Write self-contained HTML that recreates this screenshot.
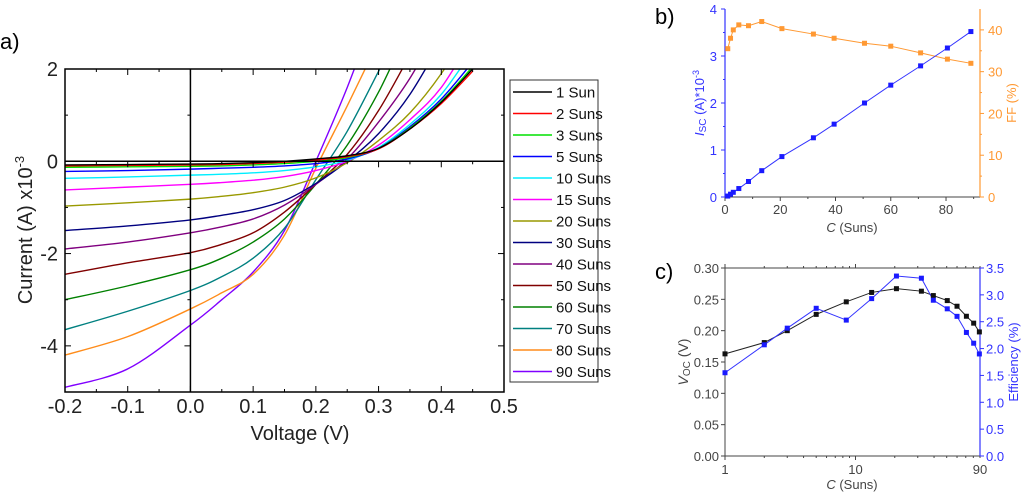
<!DOCTYPE html>
<html><head><meta charset="utf-8"><style>
body{margin:0;background:#fff;}
svg{display:block;font-family:"Liberation Sans",Arial,sans-serif;}
</style></head><body>
<svg id="fig" width="1024" height="492" viewBox="0 0 1024 492">
<defs><clipPath id="clipA"><rect x="65" y="69" width="439" height="323"/></clipPath></defs>
<g id="pa"></g>
<g id="pb"></g>
<g id="pc"></g>
</svg>
<script>
// ---------- Panel a data ----------
const volts = [-0.2,-0.1,0,0.05,0.1,0.15,0.2,0.25,0.3,0.35,0.4,0.45];
const legendLabels = ["1 Sun","2 Suns","3 Suns","5 Suns","10 Suns","15 Suns","20 Suns","30 Suns","40 Suns","50 Suns","60 Suns","70 Suns","80 Suns","90 Suns"];
const seriesColors = ["#000000","#ff0000","#00e000","#0000ff","#00eeff","#ff00ff","#999900","#000080","#800080","#800000","#008000","#008080","#ff8c1a","#8000ff"];
const cur1 = [-0.08,-0.07,-0.06,-0.05,-0.03,0,0.05,0.12,0.28,0.7,1.28,2.0];
const cur2 = [-0.1,-0.09,-0.08,-0.07,-0.05,-0.02,0.03,0.1,0.27,0.7,1.25,1.95];
const cur3 = [-0.13,-0.12,-0.11,-0.1,-0.08,-0.05,0,0.08,0.28,0.72,1.3,2.05];
const cur5 = [-0.22,-0.2,-0.17,-0.15,-0.13,-0.1,-0.05,0.05,0.28,0.75,1.35,2.15];
const cur10 = [-0.37,-0.34,-0.3,-0.28,-0.25,-0.2,-0.12,0.02,0.3,0.8,1.45,2.4];
const cur15 = [-0.62,-0.56,-0.5,-0.46,-0.41,-0.33,-0.2,0.0,0.35,0.9,1.6,2.7];
const cur20 = [-0.97,-0.9,-0.82,-0.76,-0.68,-0.56,-0.36,-0.03,0.45,1.05,1.9,3];
const cur30 = [-1.5,-1.4,-1.27,-1.17,-1.05,-0.85,-0.48,0.0,0.6,1.45,2.6,3.8];
const cur40 = [-1.9,-1.75,-1.55,-1.42,-1.25,-0.95,-0.5,0.05,0.85,1.8,3,4];
const cur50 = [-2.45,-2.2,-1.98,-1.8,-1.55,-1.1,-0.5,0.15,1.1,2.3,3.5,4.5];
const cur60 = [-3.0,-2.7,-2.35,-2.1,-1.75,-1.25,-0.5,0.35,1.5,2.9,4,5];
const cur70 = [-3.65,-3.25,-2.8,-2.5,-2.1,-1.45,-0.4,0.65,1.95,3.3,4.5,5.5];
const cur80 = [-4.2,-3.8,-3.2,-2.85,-2.45,-1.6,-0.15,1.2,2.6,4,5,6];
const cur90 = [-4.9,-4.5,-3.55,-3.0,-2.4,-1.5,0,1.6,3.4,5,6,7];
const allCurrents = [cur1,cur2,cur3,cur5,cur10,cur15,cur20,cur30,cur40,cur50,cur60,cur70,cur80,cur90];
const aXTicks = [-0.2,-0.1,0.0,0.1,0.2,0.3,0.4,0.5];
const aYTicks = [-4,-2,0,2];

// ---------- Panel b data ----------
const concB = [1,2,3,5,8.5,13.3,20.6,32,39.5,50.5,60,70.8,80.5,89];
const iscVals = [0.02,0.06,0.1,0.18,0.33,0.56,0.86,1.26,1.55,2.0,2.38,2.79,3.17,3.52];
const ffVals = [35.5,38,40,41.2,41,42,40.3,39,38,36.8,36.1,34.5,33,32];
const bXTicks = [0,20,40,60,80];
const bYTicks = [0,1,2,3,4];
const bY2Ticks = [0,10,20,30,40];

// ---------- Panel c data ----------
const concC = [1,2,3,5,8.5,13.3,20.6,32,39.5,50.5,60,70.8,80.5,89];
const vocVals = [0.163,0.181,0.2,0.226,0.246,0.261,0.267,0.263,0.256,0.248,0.239,0.223,0.212,0.198];
const effVals = [1.55,2.07,2.38,2.75,2.53,2.93,3.35,3.31,2.9,2.74,2.6,2.3,2.1,1.9];
const cXTicks = [1,10,90];
const cYTicks = [0,0.05,0.1,0.15,0.2,0.25,0.3];
const cY2Ticks = [0,0.5,1,1.5,2,2.5,3,3.5];

const NS="http://www.w3.org/2000/svg";
function mk(parent,tag,attrs,text){const e=document.createElementNS(NS,tag);for(const k in attrs)e.setAttribute(k,attrs[k]);if(text!==undefined)e.textContent=text;parent.appendChild(e);return e;}

// ===== Panel a =====
const pa=document.getElementById('pa');
const aL=65,aR=504,aT=69,aB=392;
const ax=v=>aL+(v+0.2)/0.7*(aR-aL);
const ay=v=>aT+(2-v)/7*(aB-aT);
let t=mk(pa,'text',{x:0,y:49,'font-size':22},'a)');


const curvesG=mk(pa,'g',{'clip-path':'url(#clipA)'});
function smoothPath(xs,ys){
  const p=xs.map((x,i)=>[x,ys[i]]);let d=`M${p[0][0]},${p[0][1]}`;
  for(let i=0;i<p.length-1;i++){const p0=p[i-1]||p[i],p1=p[i],p2=p[i+1],p3=p[i+2]||p2;
    d+=` C${p1[0]+(p2[0]-p0[0])/6},${p1[1]+(p2[1]-p0[1])/6} ${p2[0]-(p3[0]-p1[0])/6},${p2[1]-(p3[1]-p1[1])/6} ${p2[0]},${p2[1]}`;}
  return d;}
for(let s=allCurrents.length-1;s>=0;s--){
  const path=mk(curvesG,'path',{d:smoothPath(volts.map(ax),allCurrents[s].map(ay)),fill:'none',stroke:seriesColors[s],'stroke-width':1.4});
  
  
}
let fr=mk(pa,'rect',{x:aL,y:aT,width:aR-aL,height:aB-aT,fill:'none',stroke:'#000','stroke-width':1.5});


mk(pa,'line',{x1:ax(0),x2:ax(0),y1:aT,y2:aB,stroke:'#000','stroke-width':1.5});
mk(pa,'line',{x1:aL,x2:aR,y1:ay(0),y2:ay(0),stroke:'#000','stroke-width':1.5});
for(let k=0;k<=14;k++){const v=-0.2+k*0.05,x=ax(v),len=(k%2==0)?6:3;
  mk(pa,'line',{x1:x,x2:x,y1:aB,y2:aB-len,stroke:'#000'});mk(pa,'line',{x1:x,x2:x,y1:aT,y2:aT+len,stroke:'#000'});
  mk(pa,'line',{x1:x,x2:x,y1:ay(0),y2:ay(0)+len,stroke:'#000'});}
for(let k=-5;k<=2;k++){const y=ay(k),len=(k%2==0)?6:3;
  mk(pa,'line',{x1:aL,x2:aL+len,y1:y,y2:y,stroke:'#000'});mk(pa,'line',{x1:aR,x2:aR-len,y1:y,y2:y,stroke:'#000'});
  mk(pa,'line',{x1:ax(0),x2:ax(0)-len,y1:y,y2:y,stroke:'#000'});}
aXTicks.forEach(v=>{const e=mk(pa,'text',{x:ax(v),y:413,'font-size':20,'text-anchor':'middle',fill:'#222'},v.toFixed(1));
  
  });
aYTicks.forEach(v=>{const e=mk(pa,'text',{x:58,y:ay(v)+7,'font-size':20,'text-anchor':'end',fill:'#222'},String(v));
  
  });
t=mk(pa,'text',{x:300,y:440,'font-size':20,'text-anchor':'middle',fill:'#222'},'Voltage (V)');


t=mk(pa,'text',{transform:'translate(32,230) rotate(-90)','font-size':20,'text-anchor':'middle',fill:'#222'});
t.innerHTML='Current (A) x10<tspan dy="-8" font-size="13">-3</tspan>';


const lg=mk(pa,'g',{});


mk(lg,'rect',{x:510,y:80,width:88,height:302,fill:'#fff',stroke:'#333','stroke-width':1});
legendLabels.forEach((lab,i)=>{const y=92+i*21.5;
  const g=mk(lg,'g',{});
  
  
  mk(g,'line',{x1:513,x2:552,y1:y,y2:y,stroke:seriesColors[i],'stroke-width':1.5});
  mk(g,'text',{x:556,y:y+5.5,'font-size':15,fill:'#111'},lab);});

// ===== Panel b =====
const pb=document.getElementById('pb');
const bL=725,bR=980,bT=9,bB=197;
const bx=v=>bL+v/92.3*(bR-bL);
const by=v=>bB-v/4*(bB-bT);
const by2=v=>bB-v/45*(bB-bT);
t=mk(pb,'text',{x:655,y:24,'font-size':22},'b)');


mk(pb,'line',{x1:bL,x2:bR,y1:bB,y2:bB,stroke:'#444','stroke-width':1});
mk(pb,'line',{x1:bL,x2:bL,y1:bT,y2:bB,stroke:'#3333ff','stroke-width':1.2});
mk(pb,'line',{x1:bR,x2:bR,y1:bT,y2:bB,stroke:'#ff9933','stroke-width':1.2});
for(let v=0;v<=90;v+=10){const x=bx(v);mk(pb,'line',{x1:x,x2:x,y1:bB,y2:bB+(v%20==0?4:2),stroke:'#444'});}
bXTicks.forEach(v=>{const e=mk(pb,'text',{x:bx(v),y:214,'font-size':13,'text-anchor':'middle',fill:'#444'},String(v));
  
  });
bYTicks.forEach(v=>{mk(pb,'line',{x1:bL,x2:bL-4,y1:by(v),y2:by(v),stroke:'#3333ff'});
  const e=mk(pb,'text',{x:bL-8,y:by(v)+5,'font-size':13,'text-anchor':'end',fill:'#3333ff'},String(v));
  
  });
for(let v=0.5;v<4;v+=1)mk(pb,'line',{x1:bL,x2:bL-2,y1:by(v),y2:by(v),stroke:'#3333ff'});
bY2Ticks.forEach(v=>{mk(pb,'line',{x1:bR,x2:bR+4,y1:by2(v),y2:by2(v),stroke:'#ff9933'});
  const e=mk(pb,'text',{x:bR+8,y:by2(v)+5,'font-size':13,fill:'#ff9933'},String(v));
  
  });
for(let v=5;v<45;v+=10)mk(pb,'line',{x1:bR,x2:bR+2,y1:by2(v),y2:by2(v),stroke:'#ff9933'});
t=mk(pb,'text',{x:852,y:232,'font-size':13,'text-anchor':'middle',fill:'#444'});
t.innerHTML='<tspan font-style="italic">C</tspan> (Suns)';


t=mk(pb,'text',{transform:'translate(704,103) rotate(-90)','font-size':13,'text-anchor':'middle',fill:'#3333ff'});
t.innerHTML='<tspan font-style="italic">I</tspan><tspan font-size="10" dy="2">SC</tspan><tspan dy="-2"> (A)*10</tspan><tspan font-size="9" dy="-5">-3</tspan>';


t=mk(pb,'text',{transform:'translate(1016,103) rotate(-90)','font-size':13,'text-anchor':'middle',fill:'#ff9933'},'FF (%)');


mk(pb,'polyline',{points:concB.map((c,i)=>bx(c)+','+by2(ffVals[i])).join(' '),fill:'none',stroke:'#ff9933','stroke-width':1});
mk(pb,'polyline',{points:concB.map((c,i)=>bx(c)+','+by(iscVals[i])).join(' '),fill:'none',stroke:'#3333ff','stroke-width':1});
concB.forEach((c,i)=>{let r=mk(pb,'rect',{x:bx(c)-2.5,y:by2(ffVals[i])-2.5,width:5,height:5,fill:'#ff9933'});
  
  
  r=mk(pb,'rect',{x:bx(c)-2.5,y:by(iscVals[i])-2.5,width:5,height:5,fill:'#1a1aff'});
  
  });

// ===== Panel c =====
const pc=document.getElementById('pc');
const cL=725,cR=980,cT=268,cB=456;
const cx=v=>cL+Math.log10(v)/Math.log10(90)*(cR-cL);
const cy=v=>cB-v/0.3*(cB-cT);
const cy2=v=>cB-v/3.5*(cB-cT);
t=mk(pc,'text',{x:655,y:279,'font-size':22},'c)');


mk(pc,'line',{x1:cL,x2:cR,y1:cB,y2:cB,stroke:'#444'});
mk(pc,'line',{x1:cL,x2:cR,y1:cT,y2:cT,stroke:'#444'});
mk(pc,'line',{x1:cL,x2:cL,y1:cT,y2:cB,stroke:'#444'});
mk(pc,'line',{x1:cR,x2:cR,y1:cT,y2:cB,stroke:'#3333ff','stroke-width':1.2});
[1,2,3,4,5,6,7,8,9,10,20,30,40,50,60,70,80,90].forEach(v=>{const x=cx(v),len=(v==1||v==10)?4:2;
  mk(pc,'line',{x1:x,x2:x,y1:cB,y2:cB+len,stroke:'#444'});mk(pc,'line',{x1:x,x2:x,y1:cT,y2:cT-len,stroke:'#444'});});
cXTicks.forEach(v=>{const e=mk(pc,'text',{x:cx(v),y:474,'font-size':13,'text-anchor':'middle',fill:'#444'},String(v));
  
  });
cYTicks.forEach(v=>{mk(pc,'line',{x1:cL,x2:cL-4,y1:cy(v),y2:cy(v),stroke:'#444'});
  const e=mk(pc,'text',{x:cL-6,y:cy(v)+5,'font-size':13,'text-anchor':'end',fill:'#444'},v.toFixed(2));
  
  });
cY2Ticks.forEach(v=>{mk(pc,'line',{x1:cR,x2:cR+4,y1:cy2(v),y2:cy2(v),stroke:'#3333ff'});
  const e=mk(pc,'text',{x:cR+6,y:cy2(v)+5,'font-size':13,fill:'#3333ff'},v.toFixed(1));
  
  });
t=mk(pc,'text',{x:852,y:489,'font-size':13,'text-anchor':'middle',fill:'#444'});
t.innerHTML='<tspan font-style="italic">C</tspan> (Suns)';


t=mk(pc,'text',{transform:'translate(688,362) rotate(-90)','font-size':14,'text-anchor':'middle',fill:'#444'});
t.innerHTML='<tspan font-style="italic">V</tspan><tspan font-size="10" dy="2">OC</tspan><tspan dy="-2"> (V)</tspan>';


t=mk(pc,'text',{transform:'translate(1018,362) rotate(-90)','font-size':13,'text-anchor':'middle',fill:'#3333ff'},'Efficiency (%)');


mk(pc,'polyline',{points:concC.map((c,i)=>cx(c)+','+cy(vocVals[i])).join(' '),fill:'none',stroke:'#222','stroke-width':1});
mk(pc,'polyline',{points:concC.map((c,i)=>cx(c)+','+cy2(effVals[i])).join(' '),fill:'none',stroke:'#3333ff','stroke-width':1});
concC.forEach((c,i)=>{let r=mk(pc,'rect',{x:cx(c)-2.5,y:cy(vocVals[i])-2.5,width:5,height:5,fill:'#111'});
  
  
  r=mk(pc,'rect',{x:cx(c)-2.5,y:cy2(effVals[i])-2.5,width:5,height:5,fill:'#1a1aff'});
  
  });
</script>
</body></html>
